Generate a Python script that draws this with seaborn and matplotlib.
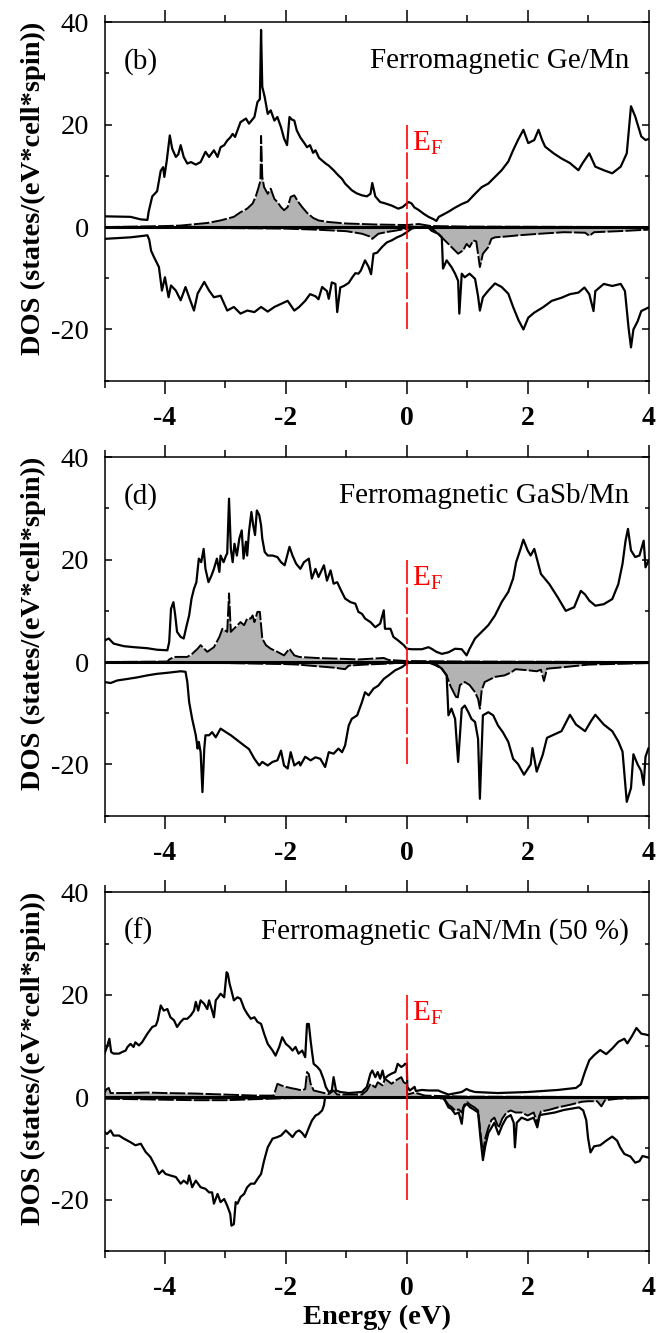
import matplotlib
matplotlib.use("Agg")
import matplotlib.pyplot as plt
from matplotlib.ticker import FixedLocator, MultipleLocator
import seaborn as sns

# ---------------------------------------------------------------------------
# Density of states, spin up (>0) and spin down (<0); energies in eV
# ---------------------------------------------------------------------------

# (b) Ge/Mn
ge_tot_up_e = [-5.00, -4.57, -4.40, -4.29, -4.27, -4.21, -4.13, -4.07, -4.03, -4.01, -3.97, -3.92, -3.88, -3.82, -3.78, -3.74, -3.69, -3.63, -3.57, -3.49, -3.41, -3.33, -3.27, -3.19, -3.13, -3.08, -3.02, -2.97, -2.92, -2.88, -2.84, -2.80, -2.75, -2.66, -2.61, -2.52, -2.47, -2.43, -2.41, -2.39, -2.35, -2.30, -2.25, -2.19, -2.14, -2.08, -2.03, -1.98, -1.94, -1.90, -1.86, -1.82, -1.76, -1.70, -1.65, -1.60, -1.55, -1.51, -1.45, -1.40, -1.34, -1.29, -1.21, -1.14, -1.07, -1.02, -0.96, -0.91, -0.83, -0.74, -0.66, -0.60, -0.57, -0.52, -0.44, -0.35, -0.25, -0.14, -0.07, 0.03, 0.08, 0.13, 0.19, 0.28, 0.36, 0.45, 0.49, 0.53, 0.58, 0.69, 0.80, 0.91, 1.01, 1.13, 1.24, 1.35, 1.46, 1.57, 1.68, 1.76, 1.84, 1.93, 2.01, 2.11, 2.18, 2.24, 2.29, 2.43, 2.56, 2.70, 2.84, 2.91, 3.02, 3.12, 3.26, 3.40, 3.54, 3.64, 3.71, 3.78, 3.88, 3.95, 4.00]
ge_tot_up = [2.1, 2.0, 1.5, 1.4, 3.0, 6.0, 7.0, 11.0, 11.7, 9.8, 13.0, 17.9, 15.3, 13.7, 14.2, 16.0, 13.7, 12.4, 12.7, 12.2, 12.7, 14.7, 13.7, 15.0, 13.7, 15.6, 16.0, 16.9, 17.5, 18.2, 17.6, 18.9, 20.5, 21.2, 20.2, 21.5, 24.4, 25.0, 38.5, 27.4, 25.4, 22.1, 22.8, 20.8, 21.5, 19.5, 17.3, 16.0, 21.5, 21.0, 20.8, 18.9, 17.5, 16.5, 15.6, 16.0, 14.5, 15.0, 13.5, 13.0, 12.4, 12.0, 11.1, 10.2, 9.4, 8.5, 7.8, 7.2, 6.6, 6.2, 6.0, 6.5, 8.6, 6.0, 4.9, 4.6, 4.2, 3.6, 3.9, 4.9, 4.6, 3.8, 3.4, 2.6, 2.0, 1.5, 1.2, 2.0, 2.3, 3.0, 3.8, 4.5, 5.0, 6.5, 7.8, 8.5, 9.8, 11.1, 12.8, 15.0, 17.0, 19.0, 16.4, 17.0, 19.0, 17.0, 15.7, 14.4, 13.4, 12.5, 11.1, 12.5, 14.4, 11.8, 11.1, 10.5, 11.8, 14.4, 23.6, 21.6, 17.7, 17.0, 17.2]

ge_tot_dn_e = [-5.00, -4.57, -4.35, -4.29, -4.26, -4.23, -4.18, -4.10, -4.05, -4.00, -3.94, -3.90, -3.82, -3.74, -3.66, -3.60, -3.52, -3.46, -3.35, -3.27, -3.19, -3.08, -2.97, -2.86, -2.75, -2.64, -2.52, -2.41, -2.30, -2.19, -2.08, -1.97, -1.86, -1.78, -1.68, -1.60, -1.51, -1.46, -1.40, -1.32, -1.29, -1.24, -1.18, -1.15, -1.10, -1.04, -0.96, -0.90, -0.85, -0.80, -0.76, -0.69, -0.63, -0.59, -0.55, -0.49, -0.41, -0.33, -0.25, -0.16, -0.08, 0.00, 0.08, 0.19, 0.36, 0.41, 0.52, 0.58, 0.60, 0.66, 0.74, 0.80, 0.85, 0.87, 0.91, 0.96, 1.04, 1.13, 1.18, 1.21, 1.26, 1.35, 1.46, 1.57, 1.68, 1.76, 1.85, 1.93, 2.01, 2.11, 2.25, 2.40, 2.56, 2.70, 2.84, 2.94, 3.02, 3.09, 3.12, 3.26, 3.40, 3.54, 3.61, 3.67, 3.71, 3.75, 3.82, 3.88, 4.00]
ge_tot_dn = [-2.3, -2.0, -1.7, -1.6, -2.5, -4.6, -5.9, -7.8, -12.4, -9.8, -13.7, -11.4, -12.4, -14.3, -11.7, -13.7, -16.3, -13.0, -10.7, -12.4, -13.7, -13.4, -16.3, -15.6, -16.9, -16.3, -16.6, -15.6, -16.5, -15.6, -15.0, -14.4, -16.3, -15.6, -14.4, -13.1, -13.5, -14.1, -11.7, -12.5, -14.0, -10.8, -11.1, -16.6, -11.8, -11.5, -10.9, -9.8, -9.0, -9.1, -8.5, -6.5, -7.8, -9.2, -5.2, -5.0, -3.9, -3.0, -2.6, -2.0, -1.6, -1.0, -0.3, 0.0, -0.1, -0.7, -1.3, -2.0, -8.1, -6.5, -7.8, -9.1, -10.5, -16.9, -9.1, -9.8, -9.1, -10.1, -13.5, -16.3, -13.7, -12.4, -11.0, -11.7, -13.0, -15.6, -18.2, -20.0, -17.7, -16.7, -15.7, -14.4, -13.8, -13.1, -12.8, -11.8, -13.1, -16.4, -12.5, -11.1, -11.5, -11.1, -12.5, -19.7, -23.5, -20.0, -18.4, -16.4, -15.7]

ge_mn_up_e = [-5.00, -4.50, -4.00, -3.74, -3.30, -3.08, -2.86, -2.75, -2.64, -2.55, -2.50, -2.45, -2.42, -2.41, -2.39, -2.36, -2.30, -2.25, -2.19, -2.14, -2.08, -2.03, -1.97, -1.92, -1.86, -1.80, -1.73, -1.65, -1.55, -1.46, -1.30, -1.00, -0.50, 0.00, 0.20, 0.40, 1.00, 4.00]
ge_mn_up = [0.0, 0.1, 0.2, 0.3, 0.8, 1.3, 2.0, 2.9, 3.6, 4.6, 5.9, 7.8, 9.1, 17.8, 9.8, 7.8, 6.5, 7.5, 5.5, 4.9, 3.9, 3.3, 3.9, 5.9, 6.2, 5.0, 3.9, 2.8, 1.8, 1.3, 1.0, 0.7, 0.5, 0.4, 0.6, 0.2, 0.1, 0.0]

ge_mn_dn_e = [-5.00, -3.00, -2.00, -1.50, -1.00, -0.74, -0.62, -0.57, -0.47, -0.30, -0.19, 0.00, 0.20, 0.40, 0.52, 0.63, 0.74, 0.85, 0.90, 0.93, 0.99, 1.04, 1.10, 1.15, 1.21, 1.26, 1.35, 1.40, 1.46, 1.68, 1.85, 2.20, 2.60, 2.95, 3.02, 3.10, 3.50, 4.00]
ge_mn_dn = [-0.1, -0.2, -0.3, -0.5, -0.8, -1.3, -1.8, -2.3, -1.3, -0.9, -0.7, -0.3, 0.0, -0.1, -1.3, -2.6, -3.9, -5.2, -4.8, -4.6, -3.3, -3.9, -2.6, -2.8, -7.8, -5.2, -3.9, -2.3, -2.0, -1.8, -1.6, -1.3, -1.0, -1.1, -1.7, -1.0, -0.8, -0.5]

# (d) GaSb/Mn
gasb_tot_up_e = [-5.00, -4.93, -4.85, -4.68, -4.51, -4.29, -4.13, -3.96, -3.93, -3.90, -3.86, -3.83, -3.80, -3.74, -3.69, -3.64, -3.60, -3.56, -3.52, -3.48, -3.44, -3.40, -3.36, -3.33, -3.28, -3.23, -3.19, -3.14, -3.10, -3.08, -3.03, -2.99, -2.97, -2.94, -2.91, -2.88, -2.85, -2.81, -2.77, -2.73, -2.70, -2.66, -2.64, -2.61, -2.57, -2.54, -2.51, -2.48, -2.44, -2.41, -2.39, -2.35, -2.30, -2.22, -2.14, -2.08, -2.02, -1.94, -1.89, -1.83, -1.76, -1.70, -1.62, -1.57, -1.51, -1.46, -1.37, -1.32, -1.26, -1.21, -1.15, -1.10, -1.02, -0.93, -0.85, -0.80, -0.74, -0.69, -0.60, -0.52, -0.44, -0.38, -0.36, -0.27, -0.22, -0.14, -0.05, 0.00, 0.08, 0.25, 0.36, 0.41, 0.49, 0.58, 0.69, 0.80, 0.91, 0.99, 1.04, 1.13, 1.24, 1.35, 1.46, 1.57, 1.68, 1.76, 1.81, 1.88, 1.93, 2.00, 2.05, 2.11, 2.22, 2.36, 2.50, 2.63, 2.77, 2.88, 2.95, 3.02, 3.12, 3.26, 3.40, 3.50, 3.57, 3.62, 3.66, 3.71, 3.78, 3.85, 3.92, 3.95, 4.00]
gasb_tot_up = [4.2, 4.6, 3.6, 3.1, 2.9, 2.7, 2.4, 2.3, 3.9, 10.4, 11.7, 9.1, 5.9, 4.9, 4.6, 7.2, 9.1, 12.4, 14.3, 15.6, 20.2, 19.5, 22.1, 18.2, 15.6, 16.9, 18.2, 20.2, 17.6, 20.8, 19.5, 20.8, 21.2, 31.9, 22.1, 19.5, 23.1, 20.8, 24.1, 25.7, 20.2, 23.5, 20.8, 25.4, 29.3, 26.7, 24.8, 29.6, 28.7, 26.7, 24.1, 21.5, 20.8, 20.8, 20.5, 19.5, 18.9, 22.5, 20.8, 19.2, 18.2, 19.5, 20.2, 16.3, 18.2, 16.6, 18.9, 15.9, 17.9, 15.3, 15.6, 14.3, 12.4, 11.7, 11.4, 9.8, 9.4, 8.5, 7.8, 6.8, 7.5, 10.1, 6.5, 6.5, 4.9, 4.2, 3.3, 2.6, 2.5, 2.5, 2.9, 2.6, 2.0, 1.6, 1.9, 2.6, 2.5, 1.3, 2.6, 4.6, 5.9, 7.2, 9.1, 11.7, 13.7, 16.3, 19.5, 22.0, 23.9, 21.8, 20.8, 22.1, 17.2, 15.2, 12.6, 10.0, 10.7, 13.9, 13.2, 12.0, 11.0, 11.3, 12.3, 15.2, 19.2, 23.7, 26.0, 21.8, 20.5, 20.8, 23.7, 18.5, 19.8]

gasb_tot_dn_e = [-5.00, -4.90, -4.79, -4.62, -4.46, -4.29, -4.13, -3.96, -3.74, -3.66, -3.63, -3.60, -3.55, -3.49, -3.46, -3.44, -3.41, -3.38, -3.35, -3.33, -3.27, -3.22, -3.16, -3.08, -2.99, -2.91, -2.80, -2.69, -2.61, -2.52, -2.44, -2.39, -2.30, -2.22, -2.14, -2.08, -2.03, -1.97, -1.92, -1.86, -1.78, -1.76, -1.68, -1.59, -1.51, -1.43, -1.35, -1.29, -1.21, -1.13, -1.07, -1.02, -0.96, -0.91, -0.82, -0.74, -0.69, -0.63, -0.55, -0.47, -0.38, -0.30, -0.19, -0.08, 0.00, 0.08, 0.36, 0.47, 0.58, 0.66, 0.69, 0.74, 0.80, 0.85, 0.91, 0.96, 1.02, 1.07, 1.13, 1.18, 1.21, 1.26, 1.35, 1.43, 1.51, 1.59, 1.68, 1.76, 1.84, 1.94, 2.05, 2.08, 2.15, 2.25, 2.32, 2.43, 2.56, 2.70, 2.80, 2.95, 3.05, 3.12, 3.26, 3.40, 3.50, 3.57, 3.64, 3.71, 3.75, 3.82, 3.88, 3.92, 3.95, 4.00]
gasb_tot_dn = [-3.9, -4.1, -3.6, -3.3, -3.0, -2.6, -2.3, -2.1, -1.8, -1.9, -3.9, -7.8, -11.1, -14.3, -16.9, -15.6, -17.6, -25.4, -17.0, -14.3, -14.3, -13.7, -14.7, -13.0, -13.7, -14.3, -15.3, -16.3, -17.0, -18.9, -20.2, -19.5, -20.2, -19.5, -19.2, -17.3, -20.2, -20.8, -17.6, -20.2, -19.5, -20.2, -18.5, -19.2, -18.6, -18.9, -20.5, -17.6, -17.9, -16.9, -17.6, -16.3, -12.4, -11.1, -10.4, -7.8, -5.9, -6.5, -5.2, -4.6, -3.3, -2.6, -1.6, -1.0, -0.3, 0.0, 0.0, -0.3, -1.3, -2.6, -10.4, -9.1, -11.1, -19.5, -9.1, -8.5, -9.8, -11.1, -11.7, -15.0, -26.7, -10.4, -9.8, -10.4, -12.4, -13.7, -15.6, -18.9, -19.9, -22.0, -20.0, -16.8, -21.4, -18.1, -14.8, -14.2, -13.5, -10.3, -12.2, -13.5, -11.5, -10.3, -12.2, -13.5, -15.5, -17.5, -27.3, -24.6, -18.0, -20.0, -21.3, -24.0, -18.5, -16.8]

gasb_mn_up_e = [-5.00, -3.96, -3.93, -3.85, -3.63, -3.55, -3.46, -3.41, -3.35, -3.30, -3.19, -3.10, -3.05, -2.97, -2.94, -2.91, -2.86, -2.80, -2.75, -2.69, -2.64, -2.58, -2.55, -2.52, -2.47, -2.43, -2.39, -2.33, -2.25, -2.14, -2.03, -1.94, -1.86, -1.78, -1.50, -1.00, -0.80, -0.38, -0.30, 0.00, 1.00, 4.00]
gasb_mn_up = [0.0, 0.1, 0.5, 1.0, 1.0, 1.6, 2.6, 3.3, 2.6, 2.0, 2.9, 4.9, 6.5, 5.9, 13.4, 5.9, 6.5, 7.2, 7.8, 7.2, 8.5, 8.5, 9.1, 7.8, 9.8, 9.8, 4.6, 3.3, 2.6, 2.0, 1.3, 2.6, 1.3, 1.0, 0.8, 0.6, 0.5, 0.8, 0.4, 0.2, 0.1, 0.0]

gasb_mn_dn_e = [-5.00, -3.00, -2.00, -1.80, -1.50, -1.20, -1.02, -0.96, -0.70, -0.30, 0.00, 0.36, 0.47, 0.58, 0.66, 0.72, 0.80, 0.84, 0.88, 0.96, 1.04, 1.13, 1.18, 1.21, 1.24, 1.29, 1.46, 1.62, 1.73, 1.80, 2.00, 2.15, 2.22, 2.27, 2.32, 2.60, 3.00, 4.00]
gasb_mn_dn = [-0.1, -0.2, -0.4, -0.5, -0.8, -1.1, -1.4, -0.7, -0.5, -0.3, 0.0, -0.1, -0.6, -1.3, -2.6, -4.6, -6.5, -7.2, -4.5, -3.9, -4.5, -5.9, -7.2, -9.1, -5.5, -3.9, -2.9, -2.6, -2.0, -1.4, -1.6, -1.8, -1.5, -3.7, -1.3, -1.0, -0.5, -0.2]

# (f) GaN/Mn (50 %)
gan_tot_up_e = [-5.00, -4.96, -4.92, -4.89, -4.85, -4.76, -4.71, -4.65, -4.62, -4.57, -4.52, -4.49, -4.43, -4.38, -4.29, -4.21, -4.15, -4.12, -4.07, -4.02, -3.96, -3.91, -3.85, -3.80, -3.74, -3.69, -3.63, -3.57, -3.52, -3.49, -3.45, -3.41, -3.35, -3.30, -3.27, -3.22, -3.19, -3.16, -3.12, -3.08, -3.02, -2.98, -2.96, -2.93, -2.90, -2.86, -2.80, -2.75, -2.69, -2.64, -2.58, -2.52, -2.47, -2.41, -2.36, -2.30, -2.22, -2.17, -2.11, -2.06, -2.00, -1.94, -1.89, -1.84, -1.79, -1.73, -1.68, -1.65, -1.62, -1.59, -1.57, -1.54, -1.48, -1.43, -1.37, -1.34, -1.29, -1.24, -1.21, -1.17, -1.10, -0.96, -0.74, -0.66, -0.60, -0.57, -0.52, -0.48, -0.44, -0.40, -0.37, -0.31, -0.25, -0.19, -0.15, -0.09, -0.05, -0.03, 0.00, 0.01, 0.05, 0.13, 0.15, 0.25, 0.36, 0.52, 0.58, 0.69, 0.91, 0.99, 1.04, 1.13, 1.50, 2.00, 2.50, 2.80, 2.88, 2.95, 3.02, 3.10, 3.20, 3.30, 3.40, 3.50, 3.60, 3.65, 3.72, 3.80, 3.88, 4.00]
gan_tot_up = [8.5, 9.8, 11.4, 8.8, 8.5, 8.5, 8.8, 9.1, 9.8, 10.4, 9.8, 10.7, 10.1, 10.7, 12.4, 13.7, 14.0, 15.0, 17.9, 16.9, 17.2, 15.6, 15.0, 13.7, 14.7, 15.3, 15.3, 16.0, 16.9, 18.6, 16.9, 18.9, 18.2, 17.2, 18.9, 16.9, 15.6, 18.9, 19.5, 20.2, 19.5, 24.4, 24.1, 22.1, 20.8, 18.9, 19.5, 19.2, 17.3, 16.3, 15.3, 15.6, 14.7, 14.3, 12.4, 10.4, 9.1, 8.1, 9.8, 11.7, 10.4, 9.8, 9.1, 9.8, 8.5, 9.1, 7.8, 14.3, 14.3, 11.0, 9.1, 6.5, 5.9, 5.2, 3.3, 2.0, 1.0, 1.3, 3.9, 1.3, 1.0, 0.8, 1.0, 2.0, 4.6, 5.2, 3.9, 4.9, 3.6, 5.2, 3.6, 4.2, 4.6, 4.9, 6.5, 5.9, 6.2, 6.5, 6.5, 2.0, 1.3, 2.0, 1.2, 1.4, 1.3, 1.3, 1.0, 0.5, 1.0, 1.6, 1.3, 1.0, 0.8, 1.0, 1.4, 1.8, 2.5, 5.0, 7.2, 8.2, 9.2, 8.4, 9.5, 10.8, 11.4, 10.5, 11.8, 13.5, 12.4, 12.1]

gan_tot_dn_e = [-5.00, -4.96, -4.90, -4.85, -4.76, -4.68, -4.57, -4.49, -4.40, -4.32, -4.24, -4.15, -4.10, -4.04, -3.99, -3.91, -3.82, -3.74, -3.69, -3.63, -3.60, -3.55, -3.49, -3.41, -3.33, -3.27, -3.22, -3.19, -3.13, -3.08, -3.02, -2.97, -2.92, -2.90, -2.86, -2.83, -2.80, -2.75, -2.69, -2.64, -2.58, -2.52, -2.47, -2.41, -2.36, -2.30, -2.22, -2.14, -2.08, -2.00, -1.94, -1.89, -1.83, -1.78, -1.73, -1.68, -1.62, -1.57, -1.51, -1.46, -1.40, -1.37, -1.35, 0.58, 0.63, 0.69, 0.74, 0.80, 0.86, 0.91, 0.94, 0.99, 1.05, 1.12, 1.18, 1.22, 1.26, 1.30, 1.35, 1.40, 1.45, 1.52, 1.58, 1.65, 1.72, 1.77, 1.79, 1.82, 1.90, 2.00, 2.10, 2.16, 2.20, 2.30, 2.45, 2.60, 2.75, 2.85, 2.92, 2.97, 3.00, 3.04, 3.10, 3.20, 3.30, 3.40, 3.48, 3.53, 3.60, 3.70, 3.78, 3.85, 3.90, 4.00]
gan_tot_dn = [-6.8, -7.2, -6.5, -7.5, -7.5, -8.1, -8.8, -9.4, -9.1, -10.7, -11.7, -13.7, -15.0, -14.3, -15.0, -15.3, -15.6, -16.9, -16.3, -16.9, -15.3, -17.6, -16.3, -17.6, -17.9, -18.6, -18.6, -20.8, -18.9, -20.5, -19.9, -21.2, -22.8, -25.1, -24.8, -20.5, -20.8, -19.5, -18.9, -17.6, -16.9, -16.9, -16.0, -15.0, -12.4, -9.8, -8.1, -7.8, -7.5, -6.5, -7.2, -7.8, -6.8, -6.5, -7.0, -7.8, -6.0, -4.6, -3.6, -3.3, -2.6, -1.6, 0.0, 0.0, -0.6, -2.0, -2.3, -3.3, -3.0, -5.2, -2.0, -1.3, -2.0, -2.5, -3.0, -8.0, -12.3, -9.5, -7.0, -6.0, -5.0, -7.3, -5.5, -4.0, -3.5, -5.0, -9.8, -5.0, -4.0, -4.5, -4.0, -5.9, -3.5, -3.3, -3.0, -2.5, -2.2, -2.0, -2.6, -4.5, -8.0, -10.8, -9.6, -9.4, -8.5, -7.7, -8.5, -9.8, -11.1, -11.6, -12.8, -12.5, -11.5, -11.8]

gan_mn_up_e = [-5.00, -4.97, -4.93, -4.90, -4.60, -4.30, -4.00, -3.50, -3.00, -2.50, -2.20, -2.14, -2.08, -2.00, -1.89, -1.84, -1.73, -1.68, -1.65, -1.62, -1.59, -1.54, -1.40, -1.29, -1.21, -1.15, -0.96, -0.74, -0.66, -0.60, -0.52, -0.48, -0.40, -0.36, -0.25, -0.19, -0.09, -0.05, 0.00, 0.01, 0.13, 0.30, 0.60, 1.00, 4.00]
gan_mn_up = [0.8, 1.5, 1.8, 0.8, 0.8, 0.9, 0.8, 0.7, 0.5, 0.3, 0.3, 2.6, 2.3, 2.0, 1.7, 1.6, 1.3, 1.6, 4.9, 4.5, 2.6, 1.3, 0.9, 0.6, 1.3, 0.5, 0.5, 0.5, 1.3, 2.6, 1.9, 2.9, 2.3, 3.6, 2.6, 3.2, 3.9, 2.9, 2.6, 0.5, 0.9, 0.3, 0.2, 0.1, 0.0]

gan_mn_dn_e = [-5.00, -4.50, -4.00, -3.50, -3.00, -2.50, -2.00, -1.35, 0.50, 0.63, 0.69, 0.74, 0.80, 0.86, 0.91, 0.95, 1.00, 1.05, 1.12, 1.18, 1.22, 1.26, 1.30, 1.35, 1.40, 1.45, 1.52, 1.58, 1.65, 1.72, 1.80, 1.90, 2.00, 2.10, 2.16, 2.22, 2.35, 2.50, 2.70, 2.90, 3.00, 3.15, 3.22, 3.28, 3.50, 4.00]
gan_mn_dn = [-0.3, -0.4, -0.5, -0.6, -0.6, -0.4, -0.2, -0.1, 0.0, -0.5, -1.5, -1.9, -2.6, -2.4, -3.0, -1.5, -1.0, -1.5, -2.0, -2.6, -7.0, -11.0, -8.0, -6.0, -4.5, -4.0, -6.0, -4.2, -3.0, -2.6, -3.0, -3.0, -3.6, -3.0, -5.0, -2.8, -2.5, -2.0, -1.5, -0.9, -0.8, -0.8, -1.8, -0.6, -0.3, -0.2]

panel_tags = ["(b)", "(d)", "(f)"]
panel_titles = ["Ferromagnetic Ge/Mn", "Ferromagnetic GaSb/Mn", "Ferromagnetic GaN/Mn (50 %)"]
x_ticks = [-4, -2, 0, 2, 4]
y_ticks = [-20, 0, 20, 40]
y_minor = [-30, -10, 10, 30]

# ---------------------------------------------------------------------------
sns.set_style("ticks")
plt.rcParams["font.family"] = ["Liberation Serif", "DejaVu Serif"]
plt.rcParams["mathtext.fontset"] = "custom"
plt.rcParams["mathtext.rm"] = "Liberation Serif"
plt.rcParams["mathtext.it"] = "Liberation Serif:italic"
plt.rcParams["axes.unicode_minus"] = False
for key in ("text.color", "axes.labelcolor", "xtick.color", "ytick.color", "axes.edgecolor"):
    plt.rcParams[key] = "black"

FS = 21
fig = plt.figure(figsize=(6.59, 13.33), dpi=100)

panels = [
    (ge_tot_up_e, ge_tot_up, ge_tot_dn_e, ge_tot_dn, ge_mn_up_e, ge_mn_up, ge_mn_dn_e, ge_mn_dn),
    (gasb_tot_up_e, gasb_tot_up, gasb_tot_dn_e, gasb_tot_dn, gasb_mn_up_e, gasb_mn_up, gasb_mn_dn_e, gasb_mn_dn),
    (gan_tot_up_e, gan_tot_up, gan_tot_dn_e, gan_tot_dn, gan_mn_up_e, gan_mn_up, gan_mn_dn_e, gan_mn_dn),
]
bottoms = [0.7144, 0.3881, 0.0617]
left, width, height = 0.1586, 0.8255, 0.2689
fill_grey = "#b3b3b3"

for i, (tue, tu, tde, td, mue, mu, mde, md) in enumerate(panels):
    ax = fig.add_axes([left, bottoms[i], width, height])

    # Mn-projected DOS: shaded, dashed outline
    ax.fill_between(mue, mu, 0, color=fill_grey, linewidth=0, zorder=1)
    ax.fill_between(mde, md, 0, color=fill_grey, linewidth=0, zorder=1)
    for ex, dv in ((mue, mu), (mde, md)):
        sns.lineplot(x=ex, y=dv, ax=ax, sort=False, estimator=None, color="black",
                     linewidth=1.4, linestyle=(0, (8, 1.2)), zorder=2)

    # total DOS
    for ex, dv in ((tue, tu), (tde, td)):
        sns.lineplot(x=ex, y=dv, ax=ax, sort=False, estimator=None, color="black",
                     linewidth=1.6, zorder=3)

    ax.axhline(0, color="black", linewidth=2.2, zorder=4)

    # Fermi level
    ax.plot([0, 0], [-20, 20], color="red", linewidth=1.2, dashes=(16, 2), zorder=5)
    ax.text(0.09, 14.9, r"$\mathrm{E_F}$", color="red", fontsize=FS, va="baseline", ha="left")

    ax.text(-4.69, 31.0, panel_tags[i], fontsize=FS, va="baseline", ha="left")
    ax.text(3.68, 31.0, panel_titles[i], fontsize=FS, va="baseline", ha="right")

    ax.set_xlim(-5, 4)
    ax.set_ylim(-30, 40)
    ax.xaxis.set_major_locator(FixedLocator(x_ticks))
    ax.xaxis.set_minor_locator(MultipleLocator(1))
    ax.yaxis.set_major_locator(FixedLocator(y_ticks))
    ax.yaxis.set_minor_locator(FixedLocator(y_minor))

    ax.tick_params(axis="x", which="both", direction="out", top=True, bottom=True,
                   width=1.1, labelsize=20, pad=9)
    ax.tick_params(axis="x", which="major", length=9)
    ax.tick_params(axis="x", which="minor", length=5.3)
    ax.tick_params(axis="y", which="both", direction="in", left=True, right=True,
                   width=1.1, labelsize=20.5, pad=11)
    ax.tick_params(axis="y", which="major", length=5)
    ax.tick_params(axis="y", which="minor", length=3)
    for lab in ax.get_xticklabels():
        lab.set_fontweight("bold")
    for sp in ax.spines.values():
        sp.set_linewidth(1.1)
        sp.set_color("black")

    ax.set_ylabel("DOS (states/(eV*cell*spin))", fontsize=20.5, fontweight="bold")
    ax.yaxis.set_label_coords(-0.107, 0.537)
    if i == 2:
        ax.set_xlabel("Energy (eV)", fontsize=20.5, fontweight="bold", labelpad=3)
    else:
        ax.set_xlabel("")

fig.savefig("out.png", dpi=100)
